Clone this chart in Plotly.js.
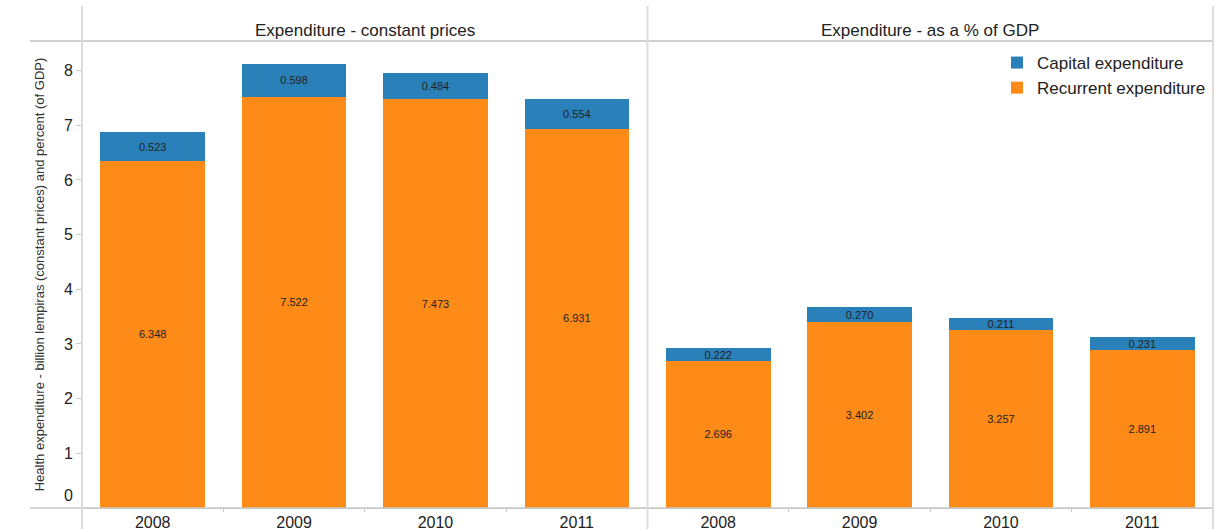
<!DOCTYPE html>
<html>
<head>
<meta charset="utf-8">
<script src="https://cdn.plot.ly/plotly-3.0.1.min.js"></script>
<style>html,body{margin:0;padding:0;background:#fff;}#chart{width:1227px;height:529px;}</style>
</head>
<body>
<div id="chart"></div>
<script>
const years = ['2008', '2009', '2010', '2011'];
const panelTitles = ['Expenditure - constant prices', 'Expenditure - as a % of GDP'];
const recurrentConstant = [6.348, 7.522, 7.473, 6.931];
const capitalConstant = [0.523, 0.598, 0.484, 0.554];
const recurrentGdp = [2.696, 3.402, 3.257, 2.891];
const capitalGdp = [0.222, 0.270, 0.211, 0.231];
const seriesNames = ['Recurrent expenditure', 'Capital expenditure'];
const yTickVals = [1, 2, 3, 4, 5, 6, 7, 8];
const yTitle = 'Health expenditure - billion lempiras (constant prices) and percent (of GDP)';

const orange = '#fe8b17';
const blue = '#2a80b9';
const fmt = v => v.toFixed(3);
const font = 'Liberation Sans, Arial, sans-serif';

function barTrace(vals, name, color, xa, show) {
  return {
    type: 'bar', x: years, y: vals, name: name, xaxis: xa, yaxis: 'y',
    marker: {color: color, line: {width: 0}},
    text: vals.map(fmt), textposition: 'inside', insidetextanchor: 'middle',
    constraintext: 'none',
    textfont: {family: font, size: 11, color: '#222'},
    showlegend: show, hoverinfo: 'x+y+name'
  };
}

const data = [
  barTrace(recurrentConstant, seriesNames[0], orange, 'x', true),
  barTrace(capitalConstant, seriesNames[1], blue, 'x', true),
  barTrace(recurrentGdp, seriesNames[0], orange, 'x2', false),
  barTrace(capitalGdp, seriesNames[1], blue, 'x2', false)
];

const xAxisCommon = {
  type: 'category', showgrid: false, zeroline: false,
  showline: true, linecolor: '#c8c8c8', linewidth: 1,
  ticks: 'outside', tickson: 'boundaries', ticklen: 3, tickcolor: '#c8c8c8',
  tickfont: {family: font, size: 16, color: '#222'}, fixedrange: true
};

const pxToPaperY = p => (508 - p) / 467;
const pxToPaperX = p => (p - 82) / 1131;

const layout = {
  width: 1227, height: 529,
  margin: {l: 82, r: 14, t: 41, b: 21},
  paper_bgcolor: '#fff', plot_bgcolor: '#fff',
  barmode: 'stack', bargap: 0.26,
  font: {family: font, color: '#222'},
  xaxis: Object.assign({}, xAxisCommon, {domain: [0, 0.5], anchor: 'y'}),
  xaxis2: Object.assign({}, xAxisCommon, {domain: [0.5, 1], anchor: 'y'}),
  yaxis: {
    range: [0, 8.54], tickvals: yTickVals, showgrid: false, zeroline: false,
    showline: true, linecolor: '#dcdcdc', linewidth: 1,
    ticks: 'outside', ticklen: 5, tickcolor: '#cccccc',
    tickfont: {family: font, size: 16, color: '#222'},
    title: {text: yTitle, font: {family: font, size: 13, color: '#333'}, standoff: 16},
    fixedrange: true
  },
  legend: {
    x: pxToPaperX(997), y: pxToPaperY(45), xanchor: 'left', yanchor: 'top',
    traceorder: 'reversed', font: {family: font, size: 17, color: '#222'},
    bgcolor: 'rgba(0,0,0,0)', itemwidth: 30, tracegroupgap: 0
  },
  annotations: [
    {text: panelTitles[0], xref: 'paper', yref: 'paper', x: 0.25, y: pxToPaperY(30),
     showarrow: false, font: {family: font, size: 17, color: '#222'}, xanchor: 'center', yanchor: 'middle'},
    {text: panelTitles[1], xref: 'paper', yref: 'paper', x: 0.75, y: pxToPaperY(30),
     showarrow: false, font: {family: font, size: 17, color: '#222'}, xanchor: 'center', yanchor: 'middle'},
    {text: '0', xref: 'paper', yref: 'y', x: 0, y: 0, xshift: -7, yshift: 2,
     showarrow: false, font: {family: font, size: 16, color: '#222'}, xanchor: 'right', yanchor: 'bottom'}
  ],
  shapes: [
    {type: 'line', xref: 'paper', yref: 'paper', x0: pxToPaperX(30), x1: 1, y0: 1, y1: 1,
     line: {color: '#c0c0c0', width: 1.5}},
    {type: 'line', xref: 'paper', yref: 'paper', x0: pxToPaperX(30), x1: 1, y0: 0, y1: 0,
     line: {color: '#c8c8c8', width: 1.5}},
    {type: 'line', xref: 'paper', yref: 'paper', x0: 0, x1: 0, y0: pxToPaperY(530), y1: pxToPaperY(6),
     line: {color: '#dcdcdc', width: 2}},
    {type: 'line', xref: 'paper', yref: 'paper', x0: 0.5, x1: 0.5, y0: pxToPaperY(530), y1: pxToPaperY(6),
     line: {color: '#dcdcdc', width: 2}},
    {type: 'line', xref: 'paper', yref: 'paper', x0: 1, x1: 1, y0: pxToPaperY(530), y1: pxToPaperY(6),
     line: {color: '#dcdcdc', width: 2}}
  ]
};

Plotly.newPlot('chart', data, layout, {displayModeBar: false, staticPlot: true});
</script>
</body>
</html>
